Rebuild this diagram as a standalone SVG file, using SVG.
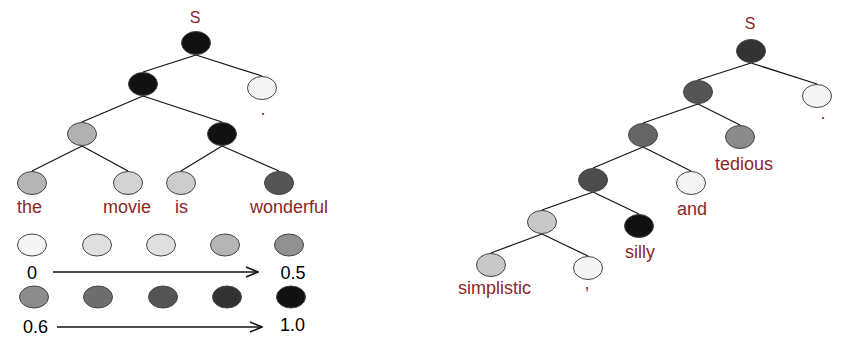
<svg xmlns="http://www.w3.org/2000/svg" width="845" height="338" viewBox="0 0 845 338">
<style>
.n{stroke:#444;stroke-width:1}
.e line{stroke:#111;stroke-width:1.2}
.lbl{font-family:"Liberation Sans",Arial,sans-serif;font-size:18px;fill:#8b2626}
.s{font-size:16px}
.num{font-family:"Liberation Sans",Arial,sans-serif;font-size:18px;fill:#000}
.arr{stroke:#111;stroke-width:1.3;fill:none}
</style>
<defs>
<marker id="ah" markerWidth="14" markerHeight="12" refX="13" refY="6" orient="auto" markerUnits="userSpaceOnUse">
<path d="M1,1 L13,6 L1,11" fill="none" stroke="#111" stroke-width="1.5"/>
</marker>
</defs>
<rect width="845" height="338" fill="#fff"/>
<g class="e" id="connectors">
<line x1="196" y1="55" x2="143" y2="72"/>
<line x1="196" y1="55" x2="262" y2="76"/>
<line x1="143" y1="96" x2="82" y2="122"/>
<line x1="143" y1="96" x2="222" y2="122"/>
<line x1="82" y1="146" x2="32" y2="171"/>
<line x1="82" y1="146" x2="128" y2="171"/>
<line x1="222" y1="146" x2="181" y2="171"/>
<line x1="222" y1="146" x2="279" y2="171"/>
<line x1="751" y1="63" x2="698" y2="80"/>
<line x1="751" y1="63" x2="817" y2="84"/>
<line x1="698" y1="104" x2="643" y2="123"/>
<line x1="698" y1="104" x2="740" y2="125"/>
<line x1="643" y1="147" x2="593" y2="168"/>
<line x1="643" y1="147" x2="691" y2="171"/>
<line x1="593" y1="192" x2="542" y2="210"/>
<line x1="593" y1="192" x2="639" y2="214"/>
<line x1="542" y1="234" x2="491" y2="253"/>
<line x1="542" y1="234" x2="588" y2="256"/>
</g>
<g id="left-root"><ellipse class="n" cx="196" cy="43" rx="14.5" ry="11.5" fill="#111"/><text class="lbl s" x="195" y="23" text-anchor="middle">S</text></g>
<g id="left-l1"><ellipse class="n" cx="143" cy="84" rx="14.5" ry="11.5" fill="#111"/></g>
<g id="left-dot"><ellipse class="n" cx="262" cy="88" rx="14.5" ry="11.5" fill="#f4f4f4"/><text class="lbl" x="263" y="115" text-anchor="middle">.</text></g>
<g id="left-l2a"><ellipse class="n" cx="82" cy="134" rx="14.5" ry="11.5" fill="#b0b0b0"/></g>
<g id="left-l2b"><ellipse class="n" cx="222" cy="134" rx="14.5" ry="11.5" fill="#111"/></g>
<g id="the"><ellipse class="n" cx="32" cy="183" rx="14.5" ry="11.5" fill="#b4b4b4"/><text class="lbl" x="17" y="213">the</text></g>
<g id="movie"><ellipse class="n" cx="128" cy="183" rx="14.5" ry="11.5" fill="#d2d2d2"/><text class="lbl" x="103" y="213">movie</text></g>
<g id="is"><ellipse class="n" cx="181" cy="183" rx="14.5" ry="11.5" fill="#cccccc"/><text class="lbl" x="175" y="213">is</text></g>
<g id="wonderful"><ellipse class="n" cx="279" cy="183" rx="14.5" ry="11.5" fill="#555"/><text class="lbl" x="250" y="213">wonderful</text></g>
<g id="right-root"><ellipse class="n" cx="751" cy="51" rx="14.5" ry="11.5" fill="#333"/><text class="lbl s" x="750" y="29" text-anchor="middle">S</text></g>
<g id="right-dot"><ellipse class="n" cx="817" cy="96" rx="14.5" ry="11.5" fill="#f4f4f4"/><text class="lbl" x="823" y="119" text-anchor="middle">.</text></g>
<g id="right-n1"><ellipse class="n" cx="698" cy="92" rx="14.5" ry="11.5" fill="#555"/></g>
<g id="right-n2"><ellipse class="n" cx="643" cy="135" rx="14.5" ry="11.5" fill="#666"/></g>
<g id="tedious"><ellipse class="n" cx="740" cy="137" rx="14.5" ry="11.5" fill="#8a8a8a"/><text class="lbl" x="715" y="170">tedious</text></g>
<g id="right-n3"><ellipse class="n" cx="593" cy="180" rx="14.5" ry="11.5" fill="#4d4d4d"/></g>
<g id="and"><ellipse class="n" cx="691" cy="183" rx="14.5" ry="11.5" fill="#f4f4f4"/><text class="lbl" x="677" y="215">and</text></g>
<g id="right-n4"><ellipse class="n" cx="542" cy="222" rx="14.5" ry="11.5" fill="#c8c8c8"/></g>
<g id="silly"><ellipse class="n" cx="639" cy="226" rx="14.5" ry="11.5" fill="#111"/><text class="lbl" x="625" y="258">silly</text></g>
<g id="simplistic"><ellipse class="n" cx="491" cy="265" rx="14.5" ry="11.5" fill="#c8c8c8"/><text class="lbl" x="458" y="294">simplistic</text></g>
<g id="comma"><ellipse class="n" cx="588" cy="268" rx="14.5" ry="11.5" fill="#f4f4f4"/><text class="lbl" x="587" y="289" text-anchor="middle">,</text></g>
<g id="legend">
<ellipse class="n" cx="32" cy="245" rx="14.5" ry="11" fill="#f4f4f4"/>
<ellipse class="n" cx="97" cy="245" rx="14.5" ry="11" fill="#e0e0e0"/>
<ellipse class="n" cx="161" cy="245" rx="14.5" ry="11" fill="#e0e0e0"/>
<ellipse class="n" cx="225" cy="245" rx="14.5" ry="11" fill="#b4b4b4"/>
<ellipse class="n" cx="289" cy="245" rx="14.5" ry="11" fill="#909090"/>
<ellipse class="n" cx="34" cy="297" rx="14.5" ry="11" fill="#8c8c8c"/>
<ellipse class="n" cx="98" cy="297" rx="14.5" ry="11" fill="#6e6e6e"/>
<ellipse class="n" cx="163" cy="297" rx="14.5" ry="11" fill="#555"/>
<ellipse class="n" cx="227" cy="297" rx="14.5" ry="11" fill="#333"/>
<ellipse class="n" cx="291" cy="297" rx="14.5" ry="11" fill="#111"/>
<text class="num" x="32" y="279" text-anchor="middle">0</text>
<line class="arr" x1="53" y1="272" x2="258" y2="272" marker-end="url(#ah)"/>
<text class="num" x="293" y="279" text-anchor="middle">0.5</text>
<text class="num" x="23" y="333">0.6</text>
<line class="arr" x1="57" y1="327" x2="262" y2="327" marker-end="url(#ah)"/>
<text class="num" x="280" y="331">1.0</text>
</g>
</svg>
